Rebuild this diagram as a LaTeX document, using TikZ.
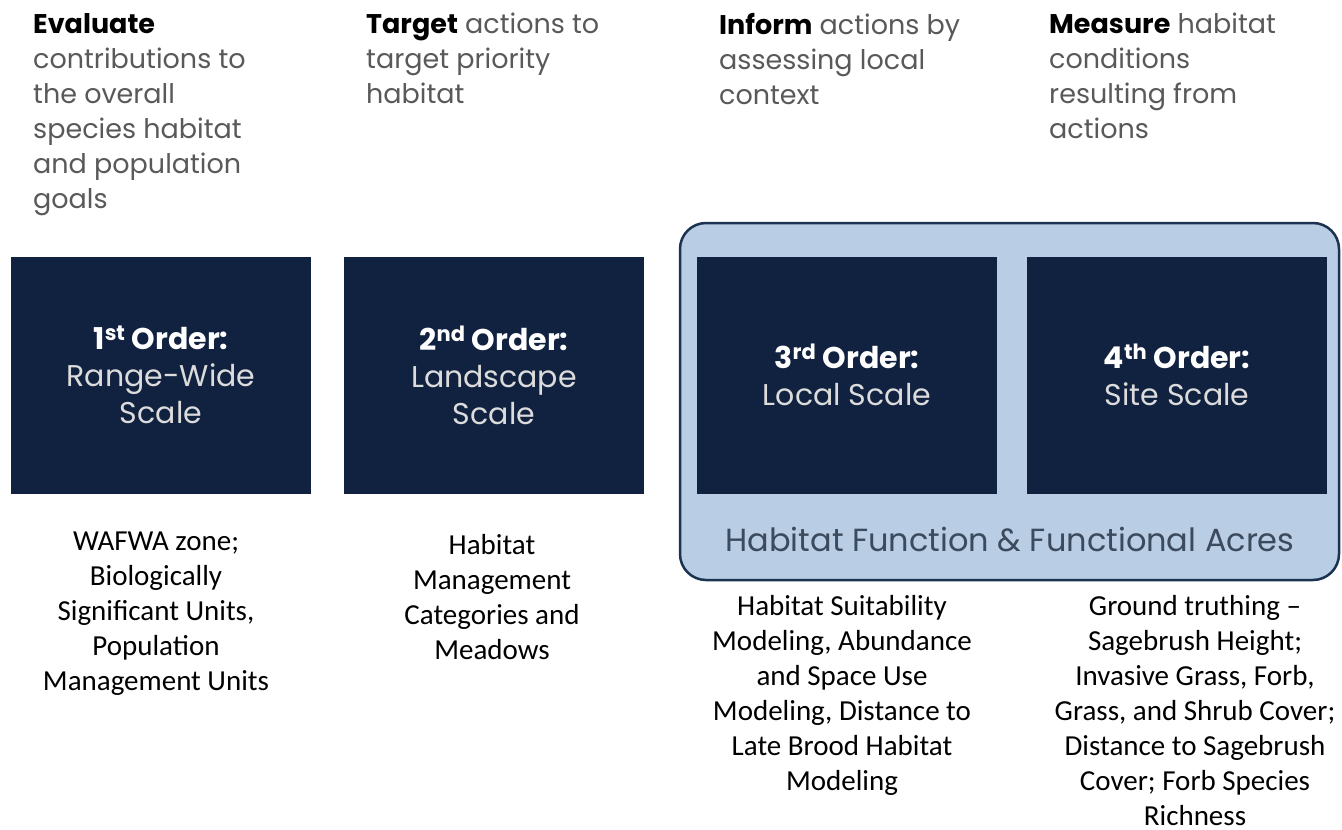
\documentclass[tikz,border=0pt]{standalone}
\usepackage{fontspec}
\setmainfont{Carlito}
\newfontfamily\gothic{Poppins}
\usetikzlibrary{backgrounds}
\definecolor{navy538}{HTML}{112240}
\definecolor{pale538}{HTML}{B9CDE5}
\definecolor{rim538}{HTML}{1B3250}
\definecolor{grey538}{HTML}{595959}
\definecolor{light538}{HTML}{DCDCDC}
\definecolor{slate538}{HTML}{3B4A5C}

\begin{document}
\begin{tikzpicture}[
          x = 1pt, y = -1pt, inner sep = 0
        ]
          \tikzstyle {aim} = [anchor = north west, align = left, text = grey538,
                              font = \gothic\fontsize{27}{35}\selectfont]
          \tikzstyle {order} = [fill = navy538, minimum width = 300pt, minimum height = 237pt,
                                align = center, text = light538, font = \gothic\fontsize{30}{37}\selectfont]
          \tikzstyle {detail} = [anchor = north, align = center, font = \fontsize{29}{35}\selectfont]
          \useasboundingbox (0,0) rectangle (1342,830);
          % place aims
          \path node (a1) [aim] at (33,13) {\textcolor{black}{\textbf{Evaluate}}\\contributions to\\the overall\\species habitat\\and population\\goals};
          \path node (a2) [aim] at (366,13) {\textcolor{black}{\textbf{Target}} actions to\\target priority\\habitat};
          \path node (a3) [aim] at (719,13) {\textcolor{black}{\textbf{Inform}} actions by\\assessing local\\context};
          \path node (a4) [aim] at (1049,13) {\textcolor{black}{\textbf{Measure}} habitat\\conditions\\resulting from\\actions};
          % place order boxes
          \foreach \n/\x/\s/\kind in {1/161/st/Range-Wide\\Scale, 2/494/nd/Landscape\\Scale,
                                      3/847/rd/Local Scale, 4/1177/th/Site Scale}
            { \path node (\n) [order] at (\x,375) {\textcolor{white}{\textbf{\n\textsuperscript{\s} Order:}}\\\kind}; } ;
          \path node (hf) [text = slate538, font = \gothic\fontsize{32}{38}\selectfont] at (1010,540)
            {Habitat Function \& Functional Acres};
          % place details
          \path node (d1) [detail] at (156,532) {WAFWA zone;\\Biologically\\Significant Units,\\Population\\Management Units};
          \path node (d2) [detail] at (492,534) {Habitat\\Management\\Categories and\\Meadows};
          \path node (d3) [detail] at (842,595) {Habitat Suitability\\Modeling, Abundance\\and Space Use\\Modeling, Distance to\\Late Brood Habitat\\Modeling};
          \path node (d4) [detail] at (1195,595) {Ground truthing --\\Sagebrush Height;\\Invasive Grass, Forb,\\Grass, and Shrub Cover;\\Distance to Sagebrush\\Cover; Forb Species\\Richness};
          \begin{scope}[on background layer]
            \draw [fill = pale538, draw = rim538, line width = 2.5pt, rounded corners = 26pt]
              (680,223) rectangle (1339,580);
          \end{scope}
        \end{tikzpicture}
\end{document}
